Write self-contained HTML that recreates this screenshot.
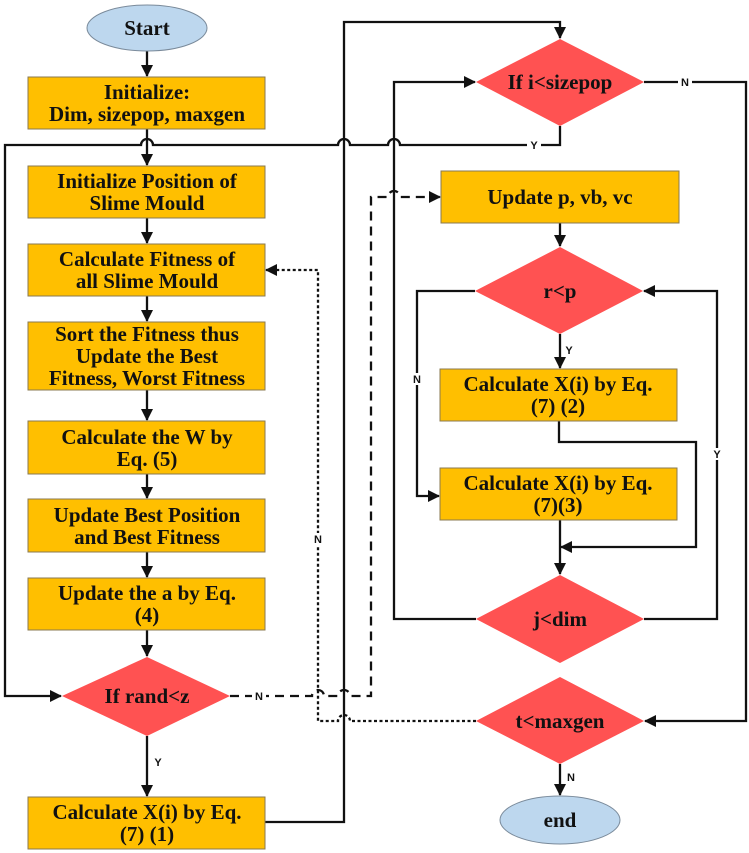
<!DOCTYPE html>
<html><head><meta charset="utf-8"><style>
html,body{margin:0;padding:0;background:#fff;}
svg{display:block;}
text{font-family:"Liberation Serif",serif;font-weight:bold;font-size:21px;fill:#111;text-anchor:middle;}
text.l{font-family:"Liberation Sans",sans-serif;font-size:11px;}
.b{fill:#FFBF00;stroke:#8a7a50;stroke-width:1;}
.d{fill:#FF5252;stroke:none;}
.e{fill:#BDD7EE;stroke:#7a8a9a;stroke-width:1;}
.s{fill:none;stroke:#111;stroke-width:2.3;}
</style></head><body>
<svg width="749" height="853" viewBox="0 0 749 853" xmlns="http://www.w3.org/2000/svg">
<defs><marker id="a" markerWidth="12" markerHeight="12" refX="11" refY="6" orient="auto" markerUnits="userSpaceOnUse"><path d="M0,0 L12,6 L0,12 z" fill="#111"/></marker></defs>

<g class="s">
<line x1="147" y1="51" x2="147" y2="76" marker-end="url(#a)"/>
<line x1="147" y1="129" x2="147" y2="165" marker-end="url(#a)"/>
<line x1="147" y1="218" x2="147" y2="243" marker-end="url(#a)"/>
<line x1="147" y1="296" x2="147" y2="321" marker-end="url(#a)"/>
<line x1="147" y1="390" x2="147" y2="420" marker-end="url(#a)"/>
<line x1="147" y1="474" x2="147" y2="498" marker-end="url(#a)"/>
<line x1="147" y1="552" x2="147" y2="577" marker-end="url(#a)"/>
<line x1="147" y1="630" x2="147" y2="656" marker-end="url(#a)"/>
<line x1="147" y1="736" x2="147" y2="796" marker-end="url(#a)"/>
<path d="M560,126 V145 H400 a6,6 0 0 0 -12,0 H350 a6,6 0 0 0 -12,0 H153 a6,6 0 0 0 -12,0 H5 V696 H61" marker-end="url(#a)"/>
<path d="M265,822 H344 V22 H560 V38" marker-end="url(#a)"/>
<path d="M476,619 H394 V82 H475" marker-end="url(#a)"/>
<path d="M644,82 H746 V721 H645" marker-end="url(#a)"/>
<line x1="560" y1="223" x2="560" y2="246" marker-end="url(#a)"/>
<line x1="560" y1="334" x2="560" y2="368" marker-end="url(#a)"/>
<path d="M475,291 H417 V496 H439" marker-end="url(#a)"/>
<path d="M559,421 V442 H696 V547 H561" marker-end="url(#a)"/>
<line x1="560" y1="520" x2="560" y2="574" marker-end="url(#a)"/>
<path d="M644,619 H717 V291 H644" marker-end="url(#a)"/>
<line x1="560" y1="764" x2="560" y2="795" marker-end="url(#a)"/>
<path d="M230,696 H312 a6,6 0 0 1 12,0 H338 a6,6 0 0 1 12,0 H371 V197 H388 a6,6 0 0 1 12,0 H440" stroke-dasharray="9,6" marker-end="url(#a)"/>
<path d="M476,721 H350 a6,6 0 0 0 -12,0 H318 V270 H266" stroke-dasharray="3,2.5" marker-end="url(#a)"/>
</g>

<ellipse class="e" cx="147" cy="28" rx="60" ry="23"/>
<rect class="b" x="28" y="77" width="237" height="52"/>
<rect class="b" x="28" y="166" width="237" height="52"/>
<rect class="b" x="28" y="244" width="237" height="52"/>
<rect class="b" x="28" y="322" width="237" height="68"/>
<rect class="b" x="28" y="421" width="237" height="53"/>
<rect class="b" x="28" y="499" width="237" height="53"/>
<rect class="b" x="28" y="578" width="237" height="52"/>
<polygon class="d" points="62,696 147,657 230,696 147,736"/>
<rect class="b" x="28" y="797" width="237" height="52"/>

<polygon class="d" points="476,82 560,39 644,82 560,126"/>
<rect class="b" x="441" y="171" width="238" height="52"/>
<polygon class="d" points="475,291 560,247 643,291 560,334"/>
<rect class="b" x="440" y="369" width="237" height="52"/>
<rect class="b" x="440" y="468" width="237" height="52"/>
<polygon class="d" points="476,619 560,575 644,619 560,663"/>
<polygon class="d" points="476,721 560,677 644,721 560,764"/>
<ellipse class="e" cx="560" cy="820" rx="60" ry="24"/>

<text x="147" y="35">Start</text>
<text x="147" y="99">Initialize:</text>
<text x="147" y="121">Dim, sizepop, maxgen</text>
<text x="147" y="188">Initialize Position of</text>
<text x="147" y="210">Slime Mould</text>
<text x="147" y="266">Calculate Fitness of</text>
<text x="147" y="288">all Slime Mould</text>
<text x="147" y="341">Sort the Fitness thus</text>
<text x="147" y="363">Update the Best</text>
<text x="147" y="385">Fitness, Worst Fitness</text>
<text x="147" y="444">Calculate the W by</text>
<text x="147" y="466">Eq. (5)</text>
<text x="147" y="522">Update Best Position</text>
<text x="147" y="544">and Best Fitness</text>
<text x="147" y="600">Update the a by Eq.</text>
<text x="147" y="622">(4)</text>
<text x="147" y="703">If rand&lt;z</text>
<text x="147" y="819">Calculate X(i) by Eq.</text>
<text x="147" y="841">(7) (1)</text>

<text x="560" y="89">If i&lt;sizepop</text>
<text x="560" y="204">Update p, vb, vc</text>
<text x="560" y="298">r&lt;p</text>
<text x="558" y="391">Calculate X(i) by Eq.</text>
<text x="558" y="413">(7) (2)</text>
<text x="558" y="490">Calculate X(i) by Eq.</text>
<text x="558" y="512">(7)(3)</text>
<text x="560" y="626">j&lt;dim</text>
<text x="560" y="728">t&lt;maxgen</text>
<text x="560" y="827">end</text>

<rect x="527" y="139" width="14" height="12" fill="#fff"/><text class="l" x="534" y="149">Y</text>
<rect x="678" y="76" width="14" height="12" fill="#fff"/><text class="l" x="685" y="86">N</text>
<rect x="252" y="690" width="14" height="12" fill="#fff"/><text class="l" x="259" y="700">N</text>
<text class="l" x="158" y="766">Y</text>
<text class="l" x="569" y="354">Y</text>
<rect x="410" y="373" width="14" height="12" fill="#fff"/><text class="l" x="417" y="383">N</text>
<rect x="710" y="448" width="14" height="12" fill="#fff"/><text class="l" x="717" y="458">Y</text>
<rect x="311" y="533" width="14" height="12" fill="#fff"/><text class="l" x="318" y="543">N</text>
<text class="l" x="571" y="781">N</text>
</svg>
</body></html>
